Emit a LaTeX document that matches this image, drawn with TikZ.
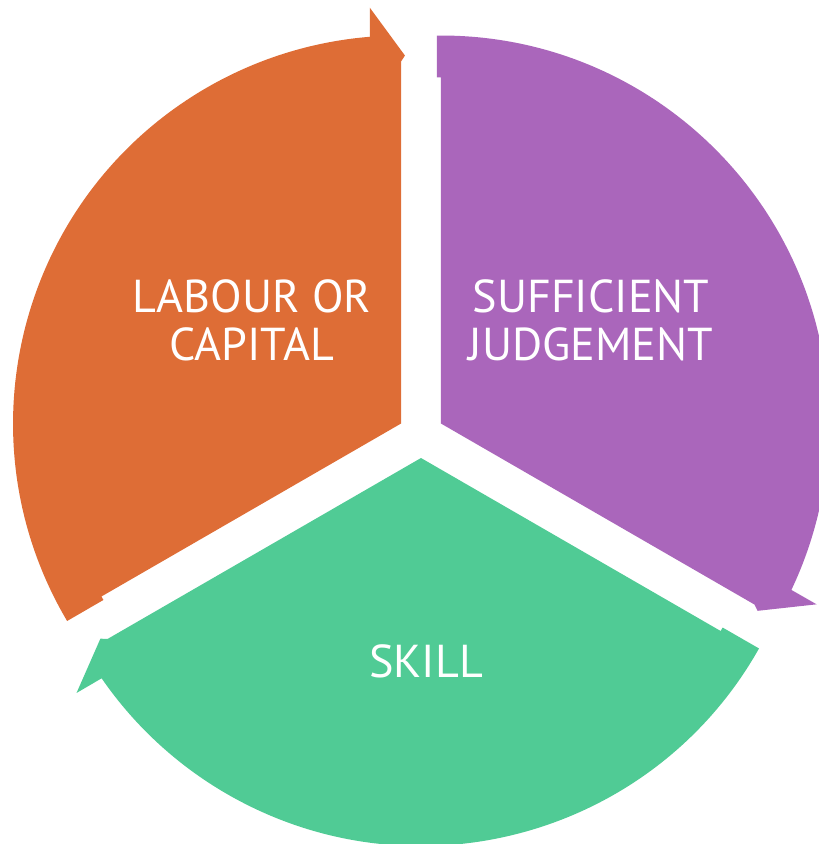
\documentclass[tikz,border=0pt]{standalone}
\usepackage{fontspec}
\setmainfont{PT Sans}
\usepackage{xcolor}
\usepackage{tikz}
\definecolor{labourcol}{RGB}{222,109,54}
\definecolor{judgecol}{RGB}{170,102,187}
\definecolor{skillcol}{RGB}{80,203,149}
\tikzset{
	segment/.pic={
		\fill[pic actions] (0,0) -- (210:346) -- ++(300:4) -- (210.6:388)
			arc[start angle=210.6, end angle=94.6, radius=388]
			-- (94.3:417) -- (89.4:368) -- (90:362) -- cycle;
	}
}
\tikzset{
	segtext/.style={text=white, align=center, inner sep=0pt, font=\fontsize{32.8}{34}\selectfont}
}

\begin{document}
\begin{tikzpicture}[x=0.025cm, y=0.025cm]
		\useasboundingbox (-421,-409) rectangle (398,435);
		
		%segments
		\pic[fill=labourcol] at (150:23) {segment};
		\pic[fill=judgecol, rotate=-120] at (30:23) {segment};
		\pic[fill=skillcol, rotate=-240] at (270:23) {segment};
		
		%labels
		\node[segtext] at (-169,115) (labour) {LABOUR OR\\CAPITAL};
		\node[segtext] at (170,115) (judge) {SUFFICIENT\\JUDGEMENT};
		\node[segtext] at (5,-226) (skill) {SKILL};
		
	\end{tikzpicture}
\end{document}
